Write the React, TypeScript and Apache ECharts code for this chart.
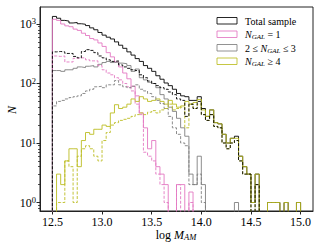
import React, { useEffect, useRef } from 'react';
import * as echarts from 'echarts';

// Histogram bins: 60 bins between 12.5 and 15.0 in log M_AM
const BIN_START = 12.5;
const BIN_END = 15.0;

// Counts per bin (solid = full sample, dashed = subsample)
const totalSolid = [
  1340, 1250, 1150, 1120, 1040, 1060, 1010, 990, 940, 860,
  800, 720, 650, 600, 560, 500, 440, 390, 340, 300,
  262, 235, 200, 180, 160, 135, 118, 102, 92, 80,
  68, 62, 60, 52, 52, 60, 38, 28, 36, 22,
  21, 14, 10, 12, 13, 6, 4, 3, 1, 3,
  0, 0, 1, 1, 1, 0, 1, 0, 0, 1,
];
const ngal1Solid = [
  1200, 1150, 1000, 930, 900, 820, 780, 700, 640, 570,
  540, 480, 420, 330, 280, 230, 190, 150, 120, 90,
  62, 32, 18, 8, 11, 4, 3, 2, 0, 0,
  2, 2, 0, 1.5, 0, 0, 0, 0, 0, 0,
  0, 0, 0, 0, 0, 0, 0, 0, 0, 0,
  0, 0, 0, 0, 0, 0, 0, 0, 0, 0,
];
const ngal23Solid = [
  165, 165, 160, 170, 170, 180, 190, 185, 195, 200,
  190, 210, 225, 235, 225, 230, 220, 215, 200, 160,
  175, 125, 115, 105, 100, 85, 65, 55, 40, 34,
  26, 18, 13, 3, 2, 6, 2, 0, 0, 0,
  0, 0, 0, 0, 1, 0, 0, 0, 0, 0,
  0, 0, 0, 0, 0, 0, 0, 0, 0, 0,
];
const ngal4Solid = [
  0, 3, 2, 5, 8, 8, 4, 11, 15, 14,
  17, 17, 20, 19, 32, 44, 38, 40, 45, 55,
  50, 60, 55, 50, 52, 55, 50, 45, 52, 45,
  40, 42, 50, 45, 48, 54, 36, 28, 36, 22,
  21, 14, 10, 12, 12, 6, 4, 3, 1, 3,
  0, 0, 1, 1, 1, 0, 1, 0, 0, 1,
];
const totalDashed = [
  340, 345, 340, 320, 320, 285, 270, 345, 370, 360,
  330, 290, 270, 250, 235, 240, 205, 190, 180, 170,
  165, 140, 125, 110, 100, 92, 85, 80, 72, 65,
  55, 52, 28, 45, 38, 50, 30, 24, 30, 19,
  18, 10, 8, 10, 11, 5, 3, 3, 0, 2,
  0, 0, 0, 0, 0, 0, 0, 0, 0, 0,
];
const ngal1Dashed = [
  290, 285, 290, 230, 230, 265, 270, 270, 250, 240,
  240, 200, 170, 150, 140, 125, 115, 100, 88, 75,
  45, 30, 7, 6, 5, 3, 2, 1, 0, 0,
  2, 0, 0, 1, 0, 0, 0, 0, 0, 0,
  0, 0, 0, 0, 0, 0, 0, 0, 0, 0,
  0, 0, 0, 0, 0, 0, 0, 0, 0, 0,
];
const ngal23Dashed = [
  42, 50, 52, 55, 58, 60, 62, 68, 75, 80,
  88, 90, 85, 95, 95, 112, 95, 88, 85, 90,
  95, 80, 75, 68, 60, 52, 46, 38, 28, 18,
  14, 10, 9, 2, 2, 3, 1, 0, 0, 0,
  0, 0, 0, 0, 0, 0, 0, 0, 0, 0,
  0, 0, 0, 0, 0, 0, 0, 0, 0, 0,
];
const ngal4Dashed = [
  0, 1, 1, 5, 4, 1, 6, 8, 9, 8,
  6, 5, 11, 15, 20, 22, 24, 25, 26, 28,
  30, 32, 30, 33, 35, 32, 36, 38, 45, 36,
  38, 40, 18, 45, 38, 45, 30, 24, 30, 19,
  18, 10, 8, 10, 11, 5, 3, 3, 0, 2,
  0, 0, 0, 0, 0, 0, 0, 0, 0, 0,
];

const xTicks = [12.5, 13.0, 13.5, 14.0, 14.5, 15.0];
const yTicks = [1, 10, 100, 1000];
const yMinorTicks = [
  0.8, 0.9,
  2, 3, 4, 5, 6, 7, 8, 9,
  20, 30, 40, 50, 60, 70, 80, 90,
  200, 300, 400, 500, 600, 700, 800, 900,
];

const legendLabels = ['Total sample', 'N_GAL = 1', '2 ≤ N_GAL ≤ 3', 'N_GAL ≥ 4'];

const COLORS = {
  total: '#000000',
  n1: '#e377c2',
  n23: '#7f7f7f',
  n4: '#bcbd22',
};

const FONT = "'Liberation Serif', 'DejaVu Serif', serif";
const FLOOR = 0.3; // below the axis minimum: zero counts drop to the axis

function stepPoints(counts: number[]) {
  const w = (BIN_END - BIN_START) / counts.length;
  const pts: [number, number][] = [[BIN_START, FLOOR]];
  counts.forEach((c, k) => {
    const v = c > 0 ? c : FLOOR;
    pts.push([BIN_START + k * w, v], [BIN_START + (k + 1) * w, v]);
  });
  pts.push([BIN_END, FLOOR]);
  return pts;
}

function histSeries(counts: number[], color: string, dashed: boolean) {
  return {
    type: 'line',
    data: stepPoints(counts),
    symbol: 'none',
    showSymbol: false,
    clip: true,
    silent: true,
    lineStyle: { color, width: 0.9, type: dashed ? [3, 1.6] : 'solid' },
  };
}

function legendRich(label: string) {
  // turn "N_GAL" into italic N with italic subscript GAL
  const parts = label.split('N_GAL');
  if (parts.length === 1) return `{r|${label}}`;
  let s = '';
  parts.forEach((p, i) => {
    if (p) s += `{r|${p}}`;
    if (i < parts.length - 1) s += '{i|N}{s|GAL}';
  });
  return s;
}

export default function App() {
  const ref = useRef<HTMLDivElement>(null);

  useEffect(() => {
    if (!ref.current) return;
    const chart = echarts.init(ref.current, undefined, { renderer: 'svg' });

    const legendColors = [COLORS.total, COLORS.n1, COLORS.n23, COLORS.n4];
    const legendTop = [17.5, 31, 44.5, 58];

    const legendRich10 = {
      r: { fontFamily: FONT, fontSize: 10, color: '#000', lineHeight: 12 },
      i: { fontFamily: FONT, fontSize: 10, fontStyle: 'italic', color: '#000', lineHeight: 12 },
      s: { fontFamily: FONT, fontSize: 7, fontStyle: 'italic', color: '#000', lineHeight: 7, verticalAlign: 'bottom' },
    };

    const graphic: any[] = [];
    legendLabels.forEach((lab, i) => {
      graphic.push({
        type: 'rect',
        shape: { x: 217, y: legendTop[i], width: 20, height: 6.5 },
        style: { fill: 'none', stroke: legendColors[i], lineWidth: 1, opacity: 0.85 },
        silent: true,
      });
      graphic.push({
        type: 'text',
        x: 245,
        y: legendTop[i] + 3.5,
        style: {
          text: legendRich(lab),
          rich: legendRich10,
          verticalAlign: 'middle',
          align: 'left',
        },
        silent: true,
      });
    });

    // x axis title: log M_AM
    graphic.push({
      type: 'text',
      x: 176,
      y: 235,
      style: {
        text: '{r|log }{i|M}{s|AM}',
        rich: {
          r: { fontFamily: FONT, fontSize: 12, color: '#000', lineHeight: 12 },
          i: { fontFamily: FONT, fontSize: 12, fontStyle: 'italic', color: '#000', lineHeight: 12 },
          s: { fontFamily: FONT, fontSize: 8.5, fontStyle: 'italic', color: '#000', lineHeight: 7, verticalAlign: 'bottom' },
        },
        align: 'center',
        verticalAlign: 'middle',
      },
      silent: true,
    });
    // y axis title: N
    graphic.push({
      type: 'text',
      x: 12,
      y: 110,
      rotation: Math.PI / 2,
      style: {
        text: 'N',
        fontFamily: FONT,
        fontSize: 12,
        fontStyle: 'italic',
        fill: '#000',
        align: 'center',
        verticalAlign: 'middle',
      },
      silent: true,
    });

    const axisColor = '#222';

    chart.setOption({
      animation: false,
      grid: {
        left: 40,
        right: 9,
        top: 7,
        bottom: 36,
        show: true,
        borderColor: axisColor,
        borderWidth: 1,
        backgroundColor: 'transparent',
        containLabel: false,
        outerBoundsMode: 'none',
      },
      xAxis: {
        type: 'value',
        min: 12.375,
        max: 15.125,
        axisLine: { show: true, onZero: false, lineStyle: { color: axisColor, width: 1 } },
        axisTick: { show: true, customValues: xTicks, length: 3.5, lineStyle: { color: axisColor, width: 1 } },
        axisLabel: {
          customValues: xTicks,
          formatter: (v: number) => v.toFixed(1),
          fontFamily: FONT,
          fontSize: 12,
          lineHeight: 11,
          color: '#000',
          margin: 5,
        },
        splitLine: { show: false },
      },
      yAxis: [
        {
          type: 'log',
          logBase: 10,
          min: 0.72,
          max: 1930,
          axisLine: { show: true, lineStyle: { color: axisColor, width: 1 } },
          axisTick: { show: true, customValues: yTicks, length: 3.5, lineStyle: { color: axisColor, width: 1 } },
          axisLabel: {
            customValues: yTicks,
            margin: 4,
            formatter: (v: number) => `{b|10}{e|${Math.round(Math.log10(v))}}`,
            rich: {
              b: { fontFamily: FONT, fontSize: 12, color: '#000', lineHeight: 14 },
              e: { fontFamily: FONT, fontSize: 8.5, color: '#000', lineHeight: 8, verticalAlign: 'top' },
            },
          },
          splitLine: { show: false },
        },
        {
          type: 'log',
          logBase: 10,
          min: 0.72,
          max: 1930,
          position: 'left',
          axisLine: { show: false },
          axisTick: { show: true, customValues: yMinorTicks, length: 2, lineStyle: { color: axisColor, width: 0.8 } },
          axisLabel: { show: false },
          splitLine: { show: false },
        },
      ],
      series: [
        histSeries(totalSolid, COLORS.total, false),
        histSeries(ngal1Solid, COLORS.n1, false),
        histSeries(ngal23Solid, COLORS.n23, false),
        histSeries(ngal4Solid, COLORS.n4, false),
        histSeries(ngal1Dashed, COLORS.n1, true),
        histSeries(ngal23Dashed, COLORS.n23, true),
        histSeries(ngal4Dashed, COLORS.n4, true),
        histSeries(totalDashed, COLORS.total, true),
      ],
      graphic,
    });

    return () => chart.dispose();
  }, []);

  return (
    <div
      ref={ref}
      style={{ position: 'absolute', left: 0, top: 0, width: 322, height: 247 }}
    />
  );
}
